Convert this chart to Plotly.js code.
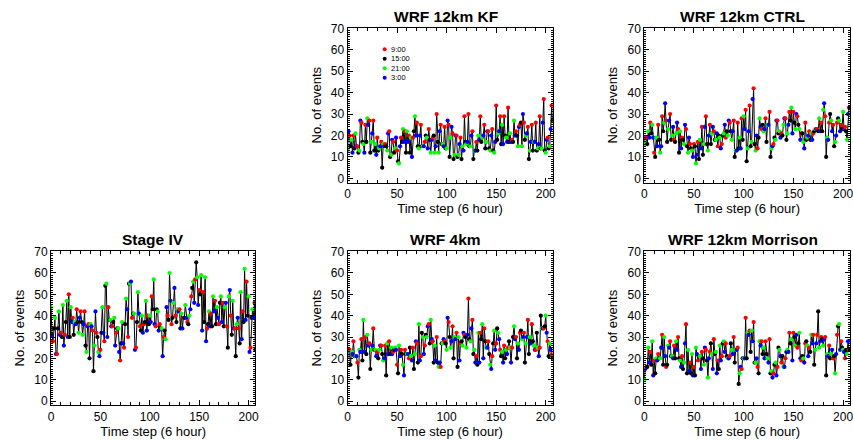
<!DOCTYPE html>
<html><head><meta charset="utf-8">
<script src="https://cdn.plot.ly/plotly-3.0.1.min.js"></script>
<style>html,body{margin:0;padding:0;background:#fff}</style>
</head><body><div id="chart" style="width:853px;height:441px"></div>
<script>
// Values, one per 6-hour time step (cycle: 21:00, 3:00, 9:00, 15:00)
const stageIV = [44,31,28,34, 39,22,22,34, 42,31,32,30, 45,26,31,37, 47,30,50,30, 44,37,39,31, 37,36,43,37, 32,39,42,37, 31,36,42,26, 23,35,36,20, 36,35,33,14, 26,42,32,30, 23,21,24,32, 44,32,28,54, 55,30,44,38, 38,35,35,37, 39,26,32,34, 34,23,19,27, 37,27,25,36, 48,43,30,55, 55,56,39,41, 41,24,25,37, 51,41,35,33, 40,32,36,37, 47,33,40,36, 40,37,49,43, 57,36,35,43, 42,33,36,34, 34,21,30,33, 29,44,40,38, 60,47,36,39, 46,53,40,37, 43,42,43,34, 41,34,39,39, 45,39,37,36, 40,43,49,53, 56,46,57,65, 58,45,52,50, 59,33,51,37, 58,28,34,36, 42,35,41,35, 49,42,47,36, 44,39,36,46, 49,37,46,35, 44,46,35,25, 49,52,40,31, 47,34,34,21, 36,39,34,27, 51,29,42,37, 62,38,56,40, 49,23,25,39, 43,39,46,24];
const wrf12kmKF = [13,22,20,15, 18,12,20,14, 21,15,15,12, 13,27,26,17, 16,12,25,17, 28,25,27,12, 17,21,27,13, 16,11,19,13, 14,15,17,5, 16,15,16,15, 13,21,22,10, 11,18,17,12, 14,19,13,8, 7,15,19,17, 23,17,22,12, 22,17,20,12, 19,10,19,22, 29,20,26,15, 14,20,25,15, 15,15,17,20, 19,14,23,18, 12,18,19,20, 12,15,30,17, 12,22,25,16, 16,15,24,14, 14,27,25,10, 19,24,21,9, 11,20,20,10, 11,16,19,9, 15,13,29,17, 16,17,30,15, 15,20,22,9, 13,13,17,13, 20,18,29,17, 19,20,25,14, 17,22,22,14, 13,20,23,13, 12,17,34,18, 21,22,29,16, 25,16,29,20, 19,17,33,17, 21,17,18,17, 27,20,22,20, 15,24,25,26, 15,30,26,18, 20,21,24,9, 13,17,25,13, 17,17,26,13, 14,16,29,14, 14,26,37,13, 12,18,19,14, 15,23,34,27];
const wrf12kmCTRL = [16,19,19,16, 22,19,26,21, 25,19,12,10, 19,15,25,18, 12,15,29,22, 26,35,27,17, 23,27,30,18, 20,24,18,17, 21,26,23,12, 22,14,19,18, 16,25,23,15, 12,19,16,14, 13,10,16,15, 7,11,17,9, 18,14,24,11, 16,24,29,16, 13,20,25,16, 21,24,22,18, 18,21,15,20, 19,14,16,20, 21,25,19,22, 20,27,26,22, 18,22,27,10, 13,13,26,14, 19,14,28,18, 29,23,32,8, 14,22,34,15, 17,37,42,16, 13,20,14,19, 28,24,23,25, 22,23,28,17, 25,25,31,10, 14,15,16,19, 18,27,27,21, 22,19,21,20, 25,28,28,18, 21,25,31,27, 33,21,31,26, 23,30,29,25, 23,18,21,21, 17,14,26,18, 19,20,22,18, 21,18,21,22, 23,23,23,22, 28,22,26,22, 32,35,29,10, 19,18,26,30, 27,22,25,15, 17,20,26,28, 27,22,25,23, 31,23,24,22, 18,30,33,33];
const wrf4km = [21,24,24,17, 23,22,28,21, 21,21,18,11, 24,23,29,19, 38,23,30,22, 31,26,27,15, 24,26,34,24, 24,21,23,20, 24,26,26,22, 19,20,26,12, 27,22,28,22, 25,22,23,24, 25,24,17,13, 26,21,24,22, 17,12,24,22, 22,22,20,25, 21,19,25,15, 22,28,27,18, 36,19,21,32, 30,22,26,31, 30,35,36,27, 38,29,28,18, 26,19,30,18, 16,18,16,27, 27,29,28,27, 24,39,37,30, 25,28,35,20, 30,29,32,16, 30,19,27,28, 26,32,31,30, 25,31,48,29, 28,34,38,22, 24,18,21,17, 32,18,32,29, 36,20,34,28, 25,25,28,22, 17,15,21,27, 33,24,27,34, 32,29,24,21, 23,18,26,20, 24,22,25,28, 25,18,25,30, 35,29,30,20, 27,24,32,33, 29,30,32,18, 27,30,38,22, 30,27,36,28, 26,24,24,32, 25,21,25,40, 34,34,34,35, 40,32,28,21, 27,24,22,20];
const wrf12kmMorrison = [10,15,16,16, 25,18,23,17, 28,12,19,13, 20,19,22,20, 20,25,31,17, 30,21,16,17, 26,25,28,21, 21,20,26,20, 28,24,30,20, 19,16,21,15, 18,27,36,13, 24,14,18,13, 22,12,16,12, 25,22,19,21, 21,15,23,20, 17,25,24,19, 11,20,23,27, 22,15,29,22, 23,13,19,15, 26,19,21,27, 28,23,27,21, 20,20,21,27, 24,22,30,18, 24,24,25,8, 13,16,15,20, 20,20,39,20, 32,31,33,23, 33,28,37,18, 18,20,16,13, 28,26,28,22, 25,20,28,22, 20,18,29,13, 14,11,13,17, 18,12,16,25, 24,21,18,21, 16,16,20,23, 24,23,32,27, 29,19,32,30, 26,31,25,27, 32,20,19,21, 20,18,27,28, 26,21,25,23, 31,27,31,17, 24,27,31,42, 25,28,30,29, 26,29,30,12, 22,21,26,20, 22,24,20,21, 13,22,31,35, 36,24,28,25, 24,23,20,24, 22,28,24,24];

const panelTitles = ['WRF 12km KF','WRF 12km CTRL','Stage IV','WRF 4km','WRF 12km Morrison'];
const legendHours = ['9:00','15:00','21:00','3:00'];
const legendColors = ['#ff0000','#000000','#00ff00','#0000ff'];
const cycleHours = ['21:00','3:00','9:00','15:00'];
const xTicks = [0,50,100,150,200];
const yTicks = [0,10,20,30,40,50,60,70];
const xTitle = 'Time step (6 hour)';
const yTitle = 'No. of events';

const FONT = 'Liberation Sans, Arial, Helvetica, sans-serif';
const hourColor = h => legendColors[legendHours.indexOf(h)];

const seriesList = [wrf12kmKF, wrf12kmCTRL, stageIV, wrf4km, wrf12kmMorrison];
// panel domains (paper fractions)
const cols = [[0.0598,0.2995],[0.4074,0.6479],[0.7553,0.9965]];
const rows = [[0.5857,0.9372],[0.0810,0.4308]];
const panelPos = [[1,0],[2,0],[0,1],[1,1],[2,1]];

const traces = [];
const layout = {
  width:853, height:441, margin:{l:0,r:0,t:0,b:0},
  paper_bgcolor:'#fff', plot_bgcolor:'#fff', showlegend:false,
  font:{family:FONT, color:'#000'},
  annotations:[], shapes:[]
};

seriesList.forEach((vals, k) => {
  const n = k+1;
  const xs = vals.map((v,i)=>i);
  const cols_ = vals.map((v,i)=>hourColor(cycleHours[i%4]));
  const xa = 'x'+(n===1?'':n), ya = 'y'+(n===1?'':n);
  traces.push({x:xs, y:vals, xaxis:xa, yaxis:ya, type:'scatter', mode:'lines',
    line:{color:'#000', width:1}, hoverinfo:'skip'});
  traces.push({x:xs, y:vals, xaxis:xa, yaxis:ya, type:'scatter', mode:'markers',
    marker:{color:cols_, size:4.2, line:{width:0}}});
  const [c, r] = panelPos[k];
  const axCommon = {showline:true, linecolor:'#000', linewidth:1, mirror:'ticks',
    ticks:'inside', ticklen:5, tickwidth:1, tickcolor:'#000', showgrid:false, zeroline:false,
    tickfont:{family:FONT, size:12, color:'#000'}, fixedrange:true};
  layout['xaxis'+(n===1?'':n)] = Object.assign({}, axCommon, {
    domain:cols[c], anchor:ya, range:[0,207], tickmode:'array', tickvals:xTicks,
    ticklabeloverflow:'allow',
    minor:{dtick:10, tick0:0, ticklen:3, ticks:'inside', tickcolor:'#000'},
    title:{text:xTitle, font:{family:FONT, size:13, color:'#000'}, standoff:2}
  });
  layout['yaxis'+(n===1?'':n)] = Object.assign({}, axCommon, {
    domain:rows[r], anchor:xa, range:[-2,70.3], tickmode:'array', tickvals:yTicks,
    ticklabeloverflow:'allow',
    minor:{dtick:1, tick0:0, ticklen:2, ticks:'inside', tickcolor:'#000'},
    title:{text:yTitle, font:{family:FONT, size:13, color:'#000'}, standoff:6}
  });
  const cx = (cols[c][0]+cols[c][1])/2 - (c>0 ? 0.005 : 0);
  layout.annotations.push({text:'<b>'+panelTitles[k]+'</b>', xref:'paper', yref:'paper',
    x:cx, y:rows[r][1]+0.0265, xanchor:'center', yanchor:'middle', showarrow:false,
    font:{family:FONT, size:15.5, color:'#000'}});
});

// legend inside the KF panel
const legY = [60.2, 55.8, 51.4, 47.0];
legendHours.forEach((h, j) => {
  layout.shapes.push({type:'circle', xref:'x', yref:'y', xsizemode:'pixel', ysizemode:'pixel',
    xanchor:37.5, yanchor:legY[j], x0:-2, x1:2, y0:-2, y1:2,
    fillcolor:legendColors[j], line:{width:0}});
  layout.annotations.push({text:h, xref:'x', yref:'y', x:41.5, y:legY[j], xanchor:'left', yanchor:'middle',
    showarrow:false, font:{family:FONT, size:7.5, color:'#000'}});
});

Plotly.newPlot('chart', traces, layout, {displayModeBar:false, staticPlot:true});
</script></body></html>
